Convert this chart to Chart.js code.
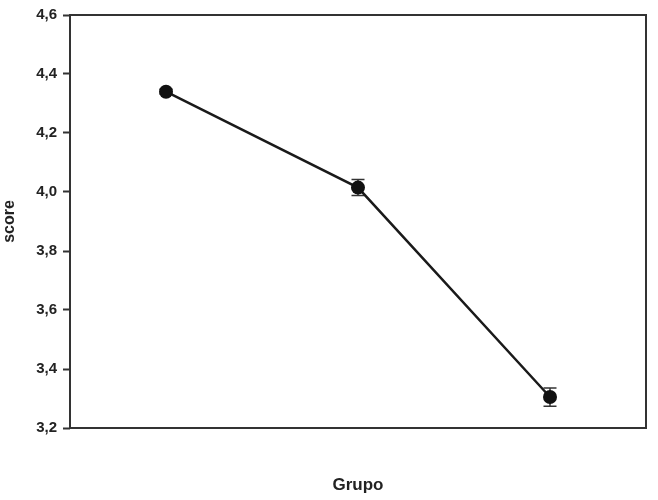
<!DOCTYPE html>
<html>
<head>
<meta charset="utf-8">
<script src="https://cdn.jsdelivr.net/npm/chart.js@4/dist/chart.umd.min.js"></script>
<style>
  html, body { margin: 0; padding: 0; background: #fff; }
  #wrap { width: 658px; height: 500px; }
</style>
</head>
<body>
<div id="wrap"><canvas id="myChart" width="658" height="500"></canvas></div>
<script>
'use strict';
// data
let grupos = ['1', '2', '3'];
let scores = [4.34, 4.015, 3.305];
let errores = [0.008, 0.027, 0.031];
let yTicks = [3.2, 3.4, 3.6, 3.8, 4.0, 4.2, 4.4, 4.6];

// error bars + frame around the plot
let errorBars = {
    id: 'errorBars',
    beforeDatasetsDraw(chart) {
        let ctx = chart.ctx;
        let x = chart.scales.x;
        let y = chart.scales.y;
        ctx.save();
        ctx.strokeStyle = '#333';
        ctx.lineWidth = 1.5;
        for (let i = 0; i < scores.length; i++) {
            let px = x.getPixelForValue(i);
            let top = y.getPixelForValue(scores[i] + errores[i]);
            let bot = y.getPixelForValue(scores[i] - errores[i]);
            ctx.beginPath();
            ctx.moveTo(px, top);
            ctx.lineTo(px, bot);
            ctx.moveTo(px - 6.5, top);
            ctx.lineTo(px + 6.5, top);
            ctx.moveTo(px - 6.5, bot);
            ctx.lineTo(px + 6.5, bot);
            ctx.stroke();
        }
        ctx.restore();
    },
    afterDraw(chart) {
        let a = chart.chartArea;
        let ctx = chart.ctx;
        ctx.save();
        ctx.strokeStyle = '#333';
        ctx.lineWidth = 2;
        ctx.strokeRect(a.left, a.top, a.right - a.left, a.bottom - a.top);
        ctx.restore();
    }
};

let ctx = document.getElementById('myChart').getContext('2d');
let myChart = new Chart(ctx, {
    type: 'line',
    data: {
        labels: grupos,
        datasets: [{
            data: scores,
            borderColor: '#1a1a1a',
            borderWidth: 2.5,
            backgroundColor: '#111',
            pointBackgroundColor: '#111',
            pointBorderColor: '#111',
            pointRadius: 7,
            pointBorderWidth: 0,
            tension: 0
        }]
    },
    options: {
        responsive: false,
        animation: false,
        layout: { padding: { top: 14, right: 12, left: 0, bottom: 0 } },
        plugins: {
            legend: { display: false },
            tooltip: { enabled: false }
        },
        scales: {
            x: {
                type: 'category',
                offset: true,
                grid: { display: false },
                border: { display: false },
                ticks: { display: false },
                title: {
                    display: true,
                    text: 'Grupo',
                    color: '#222',
                    font: { family: 'Liberation Sans, Arial', size: 17, weight: 'bold' },
                    padding: { top: 0, bottom: 4 }
                },
                afterFit(scale) { scale.height = 72; }
            },
            y: {
                min: 3.2,
                max: 4.6,
                afterBuildTicks(scale) {
                    scale.ticks = yTicks.map(v => ({ value: v }));
                },
                grid: {
                    display: true,
                    drawOnChartArea: false,
                    drawTicks: true,
                    tickLength: 7,
                    tickWidth: 2,
                    tickColor: '#333'
                },
                border: { display: false },
                ticks: {
                    padding: 6,
                    color: '#222',
                    font: { family: 'Liberation Sans, Arial', size: 15, weight: 'bold' },
                    callback: v => v.toFixed(1).replace('.', ',')
                },
                title: {
                    display: true,
                    text: 'score',
                    color: '#222',
                    font: { family: 'Liberation Sans, Arial', size: 16, weight: 'bold' },
                    padding: { top: 0, bottom: 0 }
                },
                afterFit(scale) { scale.width = 70; }
            }
        }
    },
    plugins: [errorBars]
});
</script>
</body>
</html>
